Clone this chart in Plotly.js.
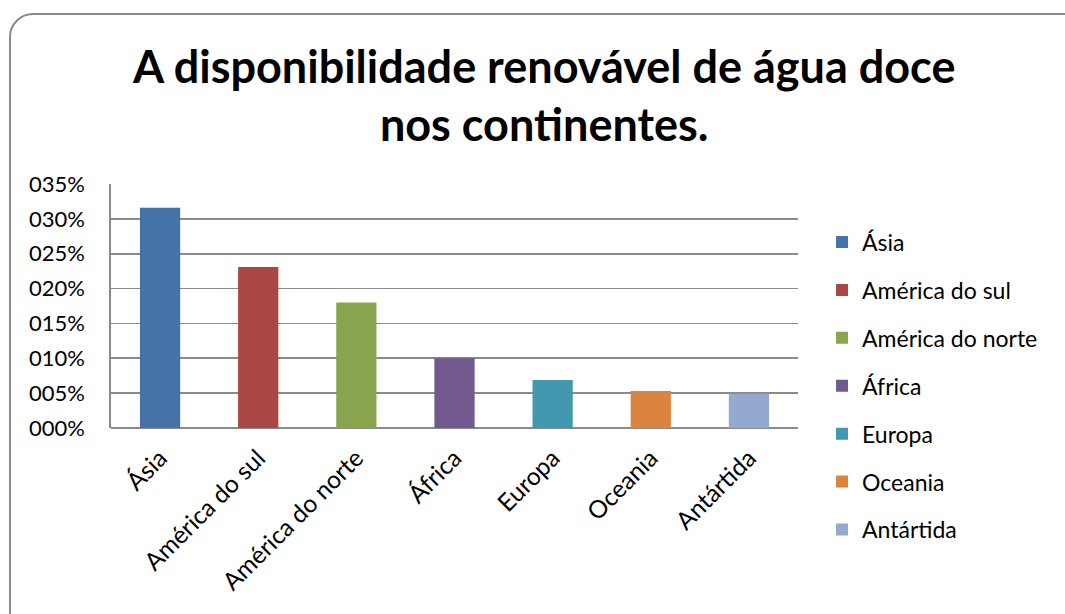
<!DOCTYPE html>
<html>
<head>
<meta charset="utf-8">
<script src="https://cdn.plot.ly/plotly-3.0.1.min.js"></script>
<style>
  html, body { margin: 0; padding: 0; width: 1065px; height: 614px; overflow: hidden; background: #fff; }
  #frame { position: absolute; left: 9px; top: 13px; width: 1080px; height: 620px; border: 2px solid #8a8a8a; border-radius: 24px; pointer-events: none; z-index: 5; }
  #chart { position: absolute; left: 0; top: 0; width: 1065px; height: 614px; }
</style>
</head>
<body>
<div id="chart"></div>
<div id="frame"></div>
<script>
const categories = ["Ásia", "América do sul", "América do norte", "África", "Europa", "Oceania", "Antártida"];
const values = [31.6, 23.1, 18.0, 10.0, 6.9, 5.3, 4.9];
const colors = ["#4572A7", "#AA4643", "#89A54E", "#71588F", "#4198AF", "#DB843D", "#93A9CF"];
const tickValues = [0, 5, 10, 15, 20, 25, 30, 35];
const tickLabels = ["000%", "005%", "010%", "015%", "020%", "025%", "030%", "035%"];

const FONT = "Lato, 'Open Sans', sans-serif";

const traces = categories.map((c, i) => ({
  type: "bar",
  name: c,
  x: [c],
  y: [values[i]],
  width: 0.41,
  legendgroup: "g" + i,
  marker: { color: colors[i], line: { width: 0 } },
  hoverinfo: "x+y"
}));

const layout = {
  width: 1065,
  height: 614,
  margin: { l: 111, r: 267, t: 184, b: 186 },
  paper_bgcolor: "#ffffff",
  plot_bgcolor: "#ffffff",
  font: { family: FONT, size: 22, color: "#000" },
  title: {
    text: "<b>A disponibilidade renovável de água doce<br>nos continentes.</b>",
    font: { family: FONT, size: 45, color: "#000" },
    x: 0.511, xanchor: "center",
    y: 0.865, yref: "container", yanchor: "top"
  },
  barmode: "overlay",
  xaxis: {
    type: "category",
    categoryorder: "array",
    categoryarray: categories,
    tickangle: -45,
    tickfont: { family: FONT, size: 24.5, color: "#000" },
    showgrid: false,
    showline: false,
    zeroline: false,
    ticks: "",
    ticklabelstandoff: 10,
    automargin: false
  },
  yaxis: {
    range: [0, 35],
    tickvals: tickValues,
    ticktext: tickLabels,
    tickfont: { family: FONT, size: 22, color: "#000" },
    showgrid: true,
    gridcolor: "#8a8a8a",
    gridwidth: 1.6,
    zeroline: true,
    zerolinecolor: "#8a8a8a",
    zerolinewidth: 1.6,
    showline: true,
    linecolor: "#8a8a8a",
    linewidth: 1.6,
    ticks: "",
    ticklabelstandoff: 20,
    automargin: false
  },
  showlegend: true,
  legend: {
    x: 1.035, xanchor: "left",
    y: 0.85, yanchor: "top",
    traceorder: "grouped",
    tracegroupgap: 15,
    maxheight: 600,
    font: { family: FONT, size: 23, color: "#000" },
    bgcolor: "rgba(0,0,0,0)"
  }
};

Plotly.newPlot("chart", traces, layout, { displayModeBar: false, staticPlot: true });
</script>
</body>
</html>
